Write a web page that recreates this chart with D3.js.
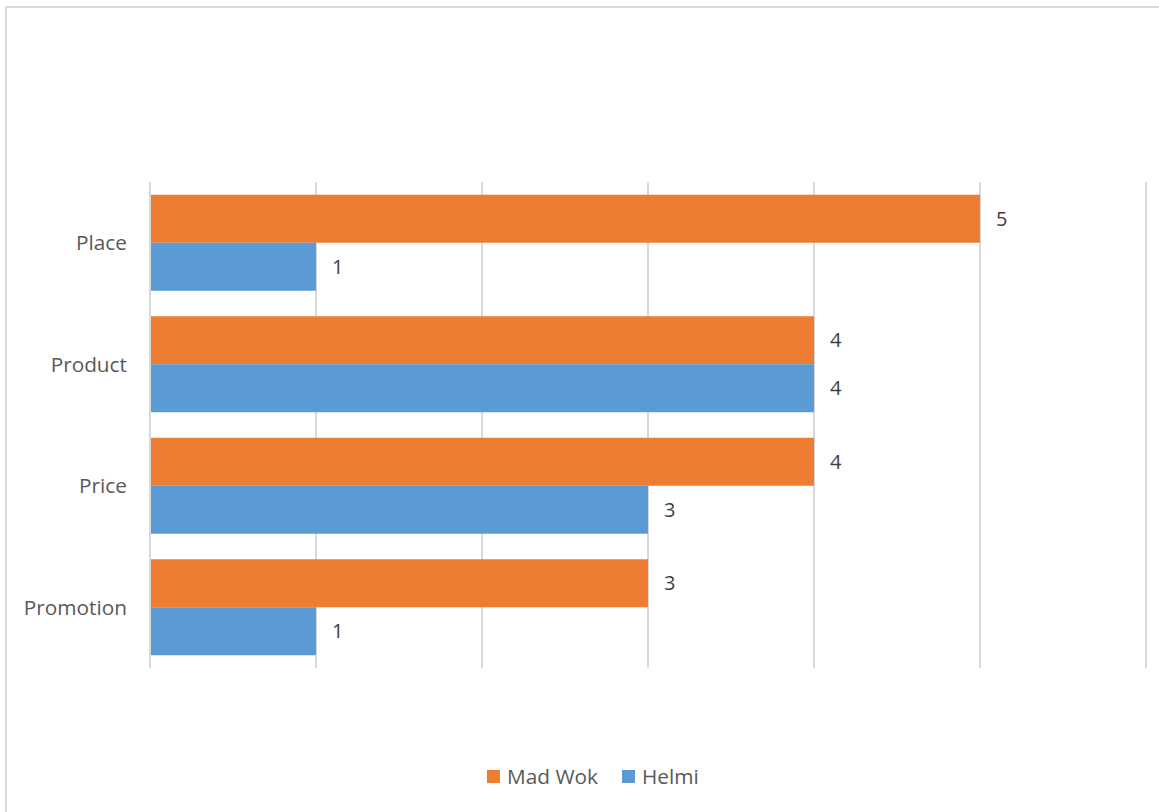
<!DOCTYPE html>
<html><head><meta charset="utf-8">
<script src="https://cdn.jsdelivr.net/npm/d3@7"></script>
<style>body{margin:0;background:#fff;}svg{display:block;font-family:"Open Sans",sans-serif;}</style>
</head><body>
<svg id="c" width="1159" height="812"></svg>
<script>
const categories = ["Place", "Product", "Price", "Promotion"];
const seriesNames = ["Mad Wok", "Helmi"];
const madWok = [5, 4, 4, 3];
const helmi = [1, 4, 3, 1];
const xTicks = [0, 1, 2, 3, 4, 5, 6];
const colors = ["#ED7D31", "#5B9BD5"];

const svg = d3.select("#c");
svg.append("rect").attr("x", 6).attr("y", 7).attr("width", 1170).attr("height", 820)
  .attr("fill", "#fff").attr("stroke", "#d9d9d9").attr("stroke-width", 2);

const x = d3.scaleLinear().domain([0, 6]).range([150, 1146]);
const y = d3.scaleBand().domain(categories).range([182, 668]).paddingInner(0.21).paddingOuter(0.105);
const ys = d3.scaleBand().domain(seriesNames).range([0, y.bandwidth()]);

svg.append("g").selectAll("line").data(xTicks).join("line")
  .attr("x1", d => x(d)).attr("x2", d => x(d)).attr("y1", 182).attr("y2", 668)
  .attr("stroke", "#d9d9d9").attr("stroke-width", 2);

const data = [madWok, helmi];
data.forEach((vals, si) => {
  const g = svg.append("g");
  g.selectAll("rect").data(vals).join("rect")
    .attr("x", x(0) + 1).attr("y", (d, i) => y(categories[i]) + ys(seriesNames[si]))
    .attr("width", d => x(d) - x(0) - 1).attr("height", ys.bandwidth())
    .attr("fill", colors[si]);
  g.selectAll("text").data(vals).join("text")
    .attr("x", d => x(d) + 16).attr("y", (d, i) => y(categories[i]) + ys(seriesNames[si]) + ys.bandwidth() / 2)
    .attr("dy", "0.35em").attr("font-size", 20).attr("fill", "#404040").text(d => d);
});

svg.append("g").selectAll("text").data(categories).join("text")
  .attr("x", 127).attr("y", d => y(d) + y.bandwidth() / 2).attr("dy", "0.35em")
  .attr("text-anchor", "end").attr("font-size", 20.8).attr("fill", "#595959").text(d => d);

const legend = svg.append("g");
const lx = [487, 622];
seriesNames.forEach((n, i) => {
  legend.append("rect").attr("x", lx[i]).attr("y", 770).attr("width", 13).attr("height", 13).attr("fill", colors[i]);
  legend.append("text").attr("x", lx[i] + 20).attr("y", 777).attr("dy", "0.35em")
    .attr("font-size", 20.8).attr("fill", "#595959").text(n);
});
</script>
</body></html>
